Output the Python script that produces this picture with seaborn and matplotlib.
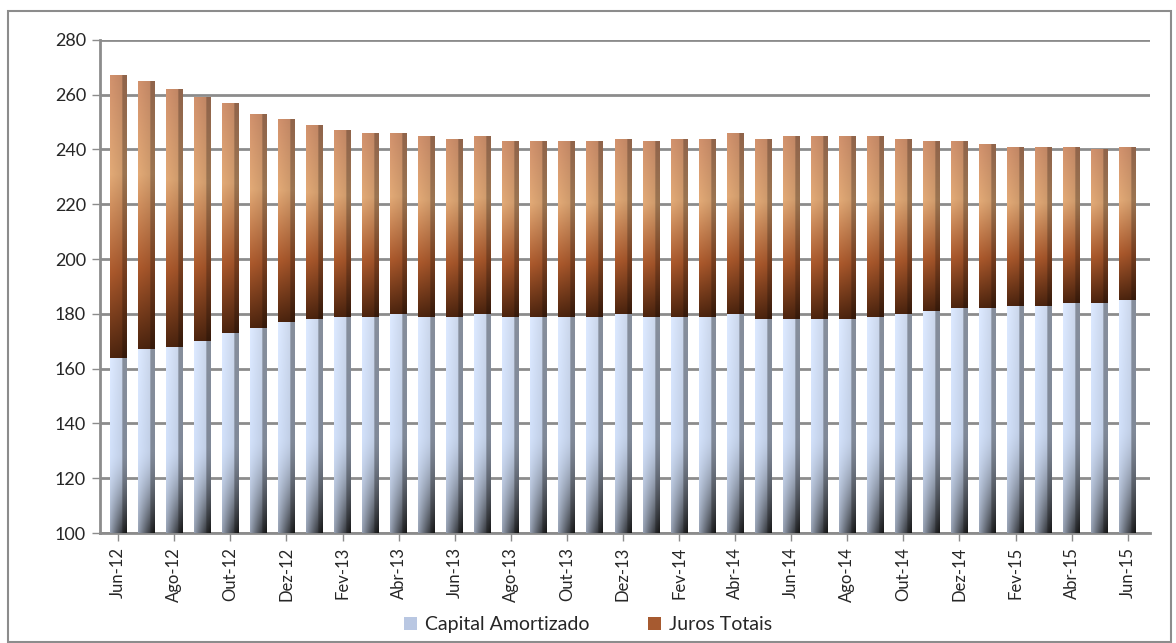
import numpy as np
import pandas as pd
import matplotlib
matplotlib.use("Agg")
import matplotlib.pyplot as plt
import seaborn as sns
from matplotlib.colors import to_rgb
from matplotlib.patches import Patch, Rectangle

# Data (Jun-12 .. Jun-15)
meses = ["Jun-12", "Jul-12", "Ago-12", "Set-12", "Out-12", "Nov-12", "Dez-12",
         "Jan-13", "Fev-13", "Mar-13", "Abr-13", "Mai-13", "Jun-13", "Jul-13",
         "Ago-13", "Set-13", "Out-13", "Nov-13", "Dez-13", "Jan-14", "Fev-14",
         "Mar-14", "Abr-14", "Mai-14", "Jun-14", "Jul-14", "Ago-14", "Set-14",
         "Out-14", "Nov-14", "Dez-14", "Jan-15", "Fev-15", "Mar-15", "Abr-15",
         "Mai-15", "Jun-15"]
capital = [164, 167, 168, 170, 173, 175, 177, 178, 179, 179, 180, 179, 179, 180,
           179, 179, 179, 179, 180, 179, 179, 179, 180, 178, 178, 178, 178, 179,
           180, 181, 182, 182, 183, 183, 184, 184, 185]
juros = [103, 98, 94, 89, 84, 78, 74, 71, 68, 67, 66, 66, 65, 65,
         64, 64, 64, 64, 64, 64, 65, 65, 66, 66, 67, 67, 67, 66,
         64, 62, 61, 60, 58, 58, 57, 56, 56]
yticks = [100, 120, 140, 160, 180, 200, 220, 240, 260, 280]

df = pd.DataFrame({"Mes": meses, "Capital": capital, "Juros": juros})
df["Total"] = df["Capital"] + df["Juros"]

sns.set_theme(style="white")
plt.rcParams["font.family"] = ["Lato", "DejaVu Sans"]

fig = plt.figure(figsize=(11.76, 6.43), dpi=100)
ax = fig.add_axes([0.085, 0.171, 0.893, 0.767])

grid_c = "#8c8c8c"
# stacked: totals first, capital drawn over them
sns.barplot(data=df, x="Mes", y="Total", color="#a65a30", width=0.6,
            ax=ax, zorder=3, saturation=1)
n_j = len(ax.patches)
sns.barplot(data=df, x="Mes", y="Capital", color="#c8d6ee", width=0.6,
            ax=ax, zorder=4, saturation=1)


def grad_image(stops_v, side_dark=0.62, dark_bottom=None):
    # vertical gradient with darker right side (3D look)
    ny, nx = 200, 40
    t = np.linspace(0, 1, ny)
    pos = [s[0] for s in stops_v]
    cols = np.array([to_rgb(s[1]) for s in stops_v])
    base = np.stack([np.interp(t, pos, cols[:, k]) for k in range(3)], axis=1)
    xs = np.linspace(0, 1, nx)
    shade = np.where(xs < 0.74, 1.05 - 0.12 * xs, side_dark)
    img = base[:, None, :] * shade[None, :, None]
    if dark_bottom is not None:
        fade = np.clip((dark_bottom - t) / dark_bottom, 0, 1)[:, None] ** 1.5
        horiz = (0.3 + 0.7 * xs)[None, :]
        k = (fade * horiz)[:, :, None]
        img = img * (1 - k) + np.array(to_rgb("#151515")) * k
    return np.clip(img, 0, 1)


img_j = grad_image([(0, "#4a230e"), (0.3, "#a4552a"), (0.65, "#d8a271"),
                    (1, "#c88b68")], side_dark=0.72)
img_c = grad_image([(0, "#c4d2ea"), (0.5, "#c9d7ef"), (1, "#d3dff4")],
                   side_dark=0.64, dark_bottom=0.45)

for i, p in enumerate(ax.patches):
    x0, w = p.get_x(), p.get_width()
    y1 = p.get_height()
    if i < n_j:
        y0 = df["Capital"].iloc[i]
        img = img_j
    else:
        y0 = 100
        img = img_c
    p.set_facecolor("none")
    p.set_edgecolor("none")
    im = ax.imshow(img, extent=[x0, x0 + w, y0, y1], origin="lower",
                   aspect="auto", zorder=p.get_zorder(), interpolation="bilinear")
    im.set_clip_path(p)

ax.set_xlim(-0.65, len(meses) - 0.2)
ax.set_ylim(100, 280)

ax.set_yticks(yticks)
ax.set_yticklabels([str(v) for v in yticks], fontsize=13)
ax.set_xticks(range(0, len(meses), 2))
ax.set_xticklabels(meses[::2], rotation=90, fontsize=12)
ax.set_xlabel("")
ax.set_ylabel("")
ax.yaxis.grid(True, color=grid_c, lw=2, zorder=1)
ax.set_axisbelow(True)
ax.tick_params(axis="both", length=6, width=1, color=grid_c, direction="out",
               pad=4, left=True, bottom=True)
for s in ["top", "right"]:
    ax.spines[s].set_visible(False)
for s in ["left", "bottom"]:
    ax.spines[s].set_color(grid_c)
    ax.spines[s].set_linewidth(2)

handles = [Patch(facecolor="#b9c7e2", edgecolor="none", label="Capital Amortizado"),
           Patch(facecolor="#a65a30", edgecolor="none", label="Juros Totais")]
fig.legend(handles=handles, loc="center", bbox_to_anchor=(0.5, 0.028), ncol=2,
           frameon=False, fontsize=14, handlelength=0.7, handleheight=0.7,
           columnspacing=3, handletextpad=0.4)

fig.patches.append(Rectangle((0.007, 0.002), 0.989, 0.981, transform=fig.transFigure,
                             fill=False, edgecolor="#8c8c8c", lw=1.5))

plt.savefig("out.png", dpi=100)
